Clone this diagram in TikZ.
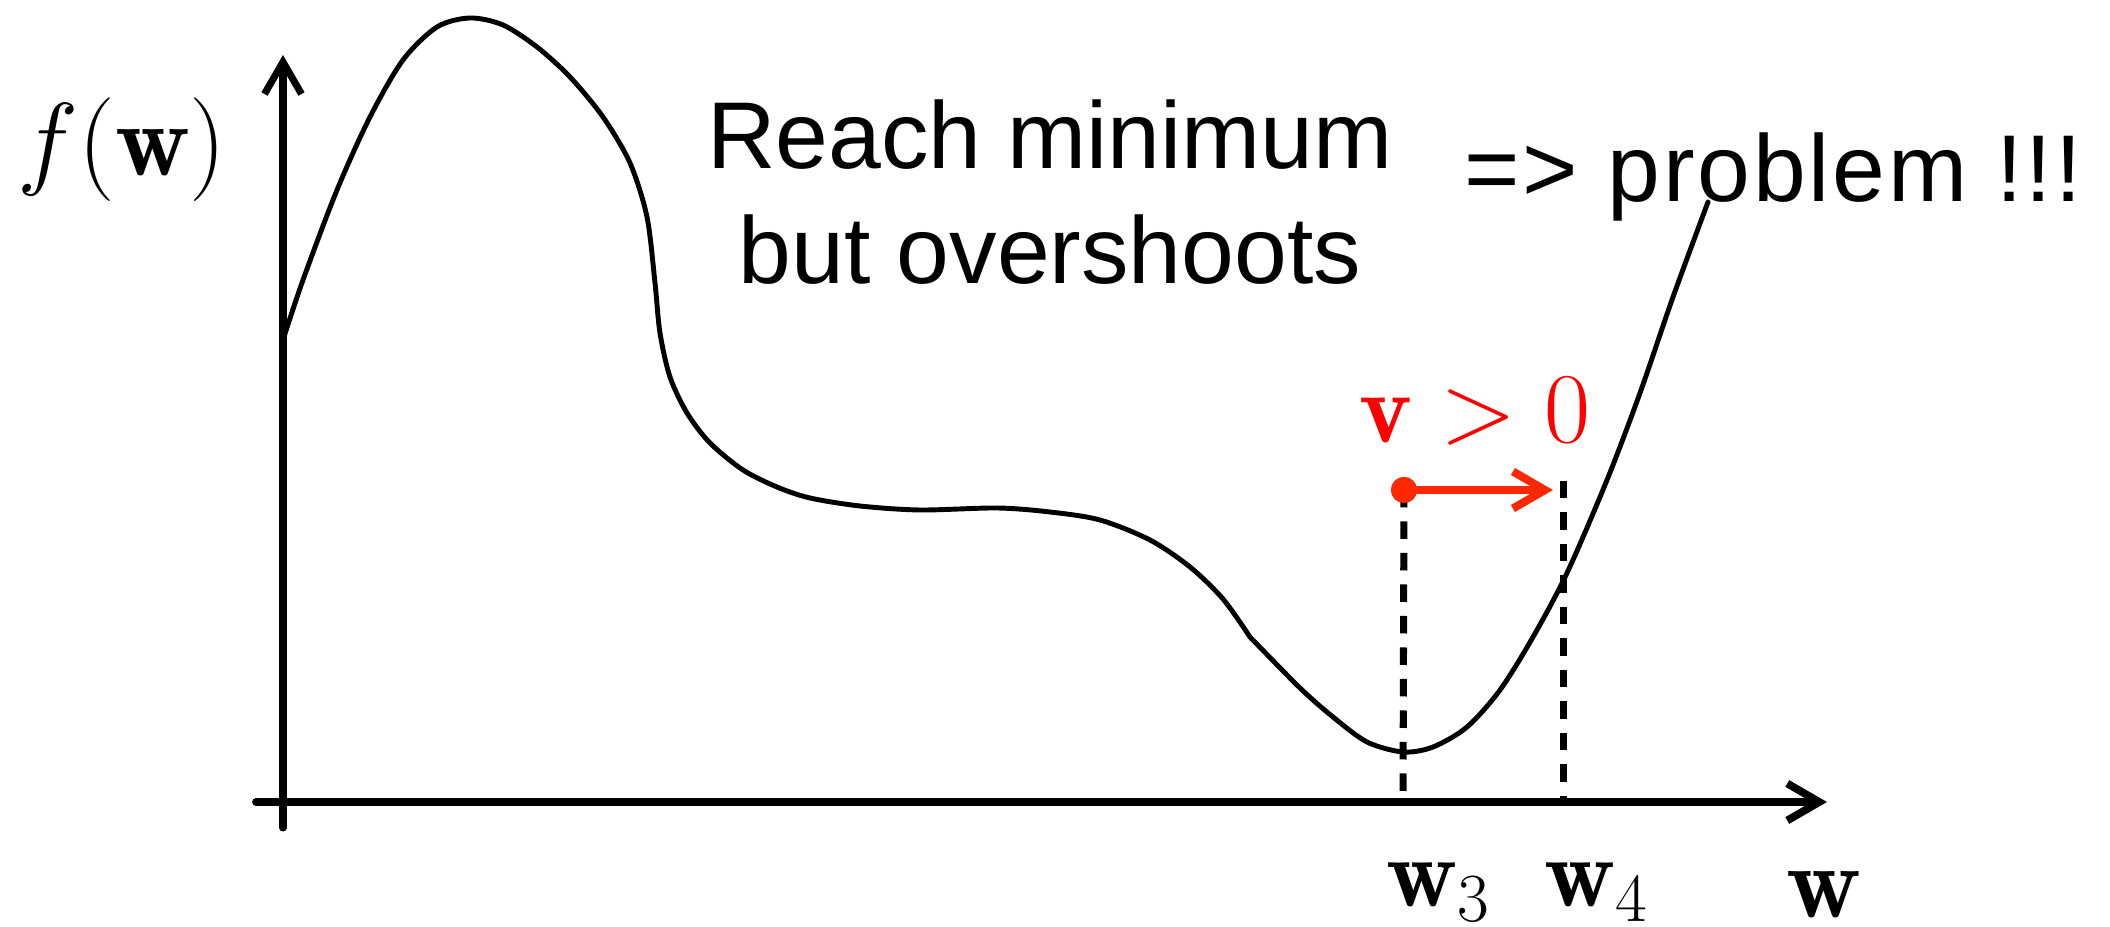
\RequirePackage{fix-cm}
\documentclass[tikz,border=0pt]{standalone}
\usepackage{fontspec}
\newfontfamily\helv{Liberation Sans}
\usetikzlibrary{arrows.meta}
\definecolor{velred}{RGB}{255,40,0}
\begin{document}
\begin{tikzpicture}[line join=round, line cap=round, >={Straight Barb[length=3.2mm,width=3.7mm]},
	lbl/.style={font=\fontsize{29.5}{35}\selectfont, inner sep=0pt},
	sublbl/.style={font=\fontsize{28}{33}\selectfont, inner sep=0pt},
	txt/.style={font=\helv\fontsize{27}{32.7}\selectfont, inner sep=0pt},
	axis/.style={line width=2.2pt},
	guide/.style={line width=2pt, line cap=butt, dash pattern=on 1.75mm off 1.4mm},
	fcurve/.style={line width=1.4pt, smooth},
	dot/.style={circle, fill=velred, inner sep=0pt, minimum size=2.6mm}]
	\useasboundingbox (-2.83,-1.25) rectangle (18.27,8.02);
	\coordinate (xstart) at (-0.27,0); \coordinate (xend) at (15.44,0);
	\coordinate (ystart) at (0,-0.26); \coordinate (yend) at (0,7.47);
	\coordinate (w3base) at (11.20,0); \coordinate (w4base) at (12.80,0);
	\coordinate (w4top) at (12.80,3.21); \coordinate (vtip) at (12.70,3.12);
	\draw[axis,->] (xstart)--(xend);
	\draw[axis,line width=2pt,->] (ystart)--(yend);
	\draw[fcurve] plot coordinates {(0,4.62) (0.20,5.22) (0.54,6.12) (0.87,6.85) (1.20,7.42) (1.54,7.75) (1.87,7.84) (2.20,7.77) (2.54,7.55) (2.87,7.25) (3.20,6.85) (3.47,6.39) (3.64,5.85) (3.72,5.19) (3.77,4.69) (3.87,4.25) (4.04,3.89) (4.27,3.59) (4.60,3.32) (4.94,3.15) (5.27,3.04) (5.77,2.96) (6.37,2.92) (7.14,2.94) (7.67,2.90) (8.17,2.82) (8.67,2.62) (9.07,2.35) (9.40,2.03) (9.67,1.65)};
	\draw[fcurve] plot coordinates {(9.67,1.65) (10.17,1.14) (10.50,0.85) (10.84,0.60) (11.20,0.50) (11.50,0.55) (11.84,0.75) (12.17,1.12) (12.50,1.65) (12.84,2.29) (13.24,3.22) (13.57,4.09) (13.90,5.05) (14.25,6.00)};
	\node[dot] (w3pos) at (11.21,3.12) {};
	\draw[guide] (w3pos.center)--(w3base);
	\draw[guide] (w4top)--(w4base);
	\node[dot] at (w3pos) {};
	\draw[velred, line width=2.3pt, ->] (w3pos)--(vtip);
	\node[lbl] (fw) at (-1.61,6.52) {$f(\mathbf{w})$};
	\node[lbl, font=\fontsize{28.5}{34}\selectfont, anchor=base, text=red] (vpos) at (11.92,3.59) {$\mathbf{v} > 0$};
	\node[sublbl, anchor=base] (w3) at (11.56,-1.05) {$\mathbf{w}_3$};
	\node[sublbl, anchor=base] (w4) at (13.14,-1.05) {$\mathbf{w}_4$};
	\node[lbl, anchor=base] (wlab) at (15.41,-1.16) {$\mathbf{w}$};
	\node[txt, anchor=north, align=center] (note) at (7.67,7.03) {Reach minimum\\but overshoots};
	\node[txt, anchor=base west] (problem) at (11.81,6.00) {\addfontfeature{LetterSpace=3}=> problem !!!};
\end{tikzpicture}
\end{document}
